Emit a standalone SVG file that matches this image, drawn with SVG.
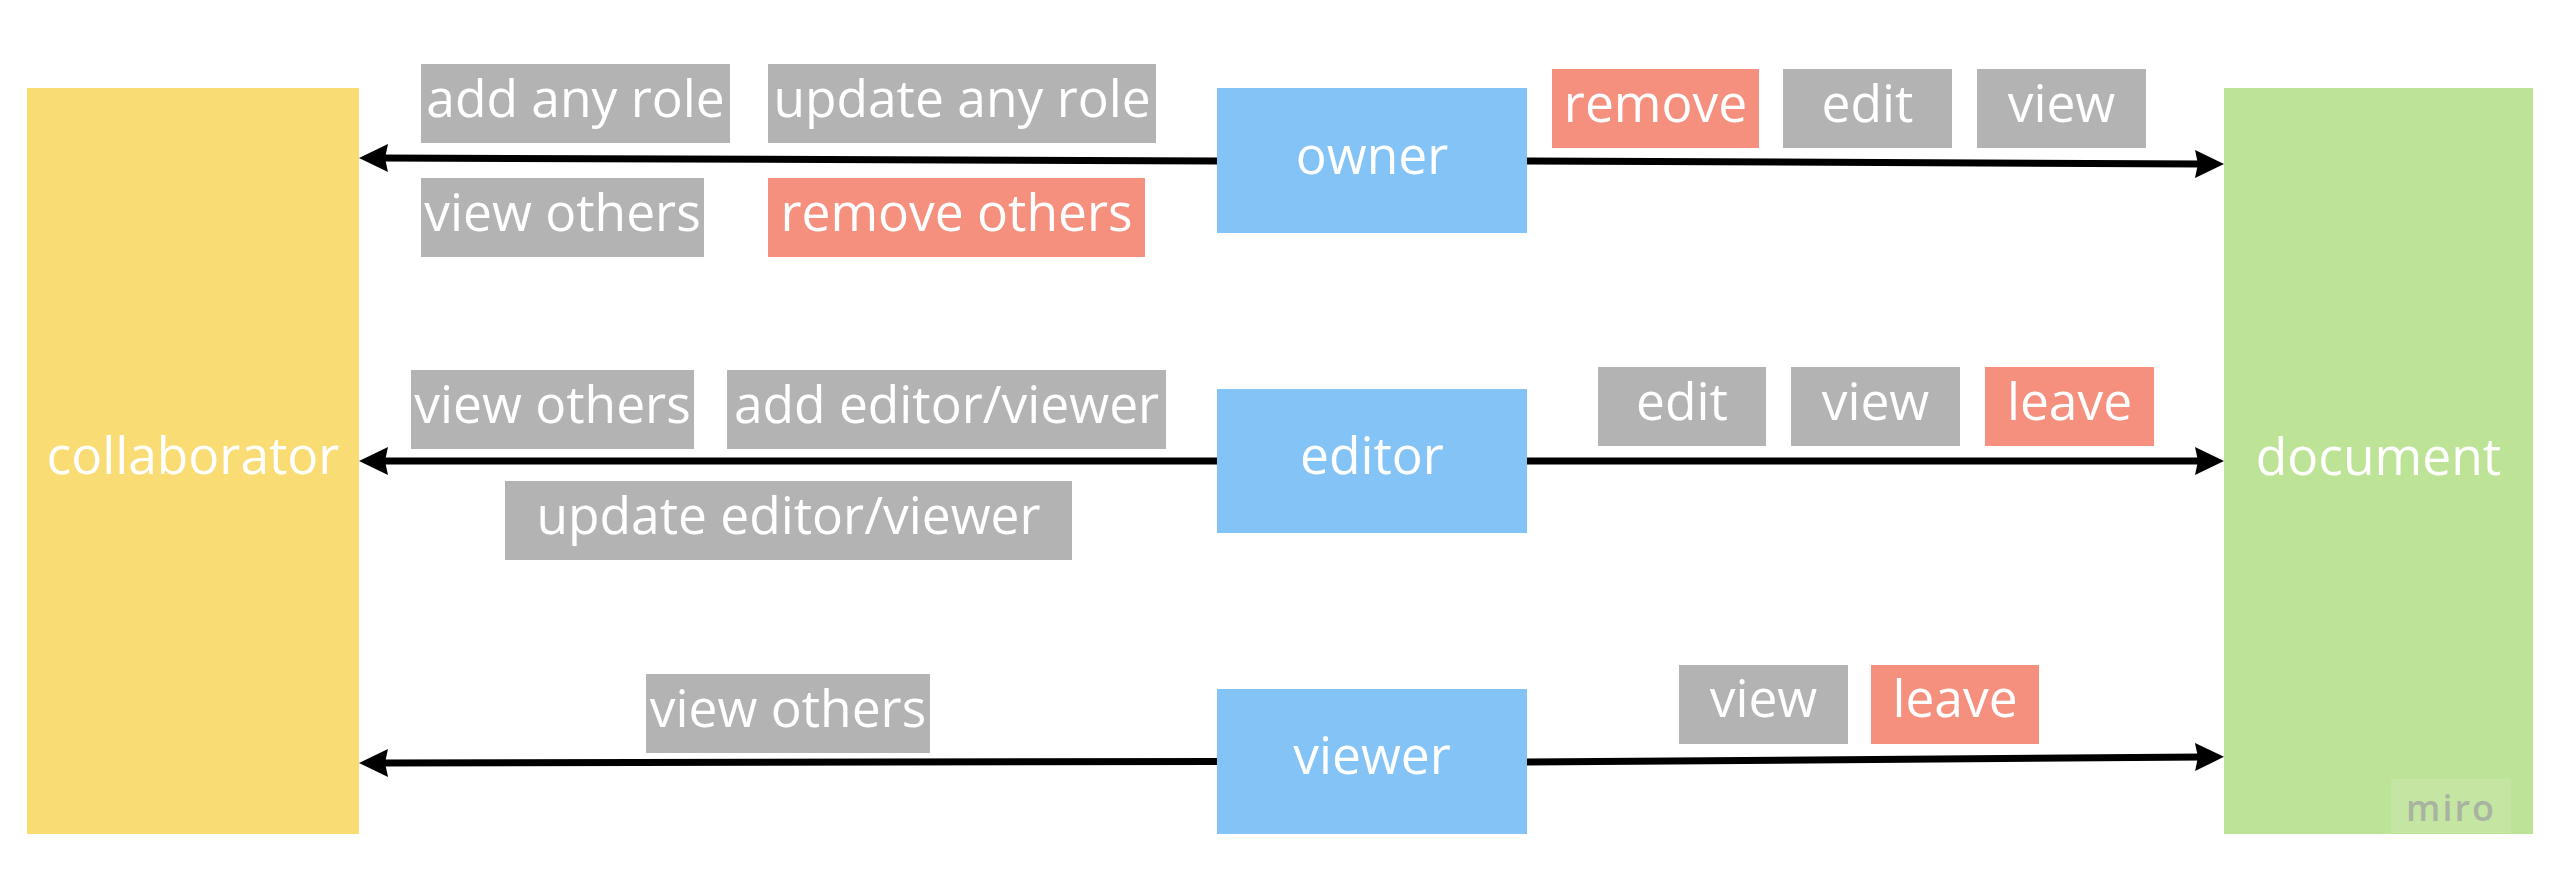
<svg xmlns="http://www.w3.org/2000/svg" width="2550" height="882" viewBox="0 0 2550 882">
<style>
  text { font-family: "Open Sans", "Noto Sans", "Liberation Sans", sans-serif; font-size: 51.5px; fill: #ffffff; text-anchor: middle; }
  .grey { fill: #b3b3b3; }
  .red { fill: #f6907e; }
  .role { fill: #83c3f5; }
  .conn { stroke: #000000; stroke-width: 7; fill: none; }
  .miro { font-size: 36px; font-weight: 600; fill: #a9b3a1; letter-spacing: 2px; }
</style>
<defs>
  <marker id="arrow" markerUnits="userSpaceOnUse" viewBox="0 -15 30 30" markerWidth="30" markerHeight="30" refX="7" refY="0" orient="auto">
    <path d="M0,-14 L29,0 L0,14 L3,0 Z" fill="#000000"/>
  </marker>
</defs>
<rect width="2550" height="882" fill="#ffffff"/>

<g id="collaborator">
  <rect x="27" y="88" width="332" height="746" fill="#f9dc73"/>
  <text x="193" y="474">collaborator</text>
</g>
<g id="document">
  <rect x="2224" y="88" width="309" height="746" fill="#bde396"/>
  <text x="2378.5" y="475">document</text>
  <rect x="2391" y="779" width="120" height="54" fill="#c5e6a2"/>
  <text class="miro" x="2451" y="821">miro</text>
</g>
<g id="owner">
  <rect class="role" x="1217" y="88" width="310" height="145"/>
  <text x="1372" y="173.5">owner</text>
</g>
<g id="editor">
  <rect class="role" x="1217" y="389" width="310" height="144"/>
  <text x="1372" y="474">editor</text>
</g>
<g id="viewer">
  <rect class="role" x="1217" y="689" width="310" height="145"/>
  <text x="1372" y="774">viewer</text>
</g>

<g id="connectors">
  <line class="conn" x1="1217" y1="161" x2="381" y2="158" marker-end="url(#arrow)"/>
  <line class="conn" x1="1527" y1="161" x2="2202" y2="164" marker-end="url(#arrow)"/>
  <line class="conn" x1="1217" y1="461" x2="381" y2="461" marker-end="url(#arrow)"/>
  <line class="conn" x1="1527" y1="461" x2="2202" y2="461" marker-end="url(#arrow)"/>
  <line class="conn" x1="1217" y1="761.5" x2="381" y2="763" marker-end="url(#arrow)"/>
  <line class="conn" x1="1527" y1="762" x2="2202" y2="757" marker-end="url(#arrow)"/>
</g>

<g id="owner-collaborator-labels">
  <g id="lbl-add-any-role"><rect class="grey" x="421" y="64" width="309" height="79"/><text x="575.5" y="117">add any role</text></g>
  <g id="lbl-update-any-role"><rect class="grey" x="768" y="64" width="388" height="79"/><text x="962" y="117">update any role</text></g>
  <g id="lbl-owner-view-others"><rect class="grey" x="421" y="178" width="283" height="79"/><text x="562.5" y="230.5">view others</text></g>
  <g id="lbl-remove-others"><rect class="red" x="768" y="178" width="377" height="79"/><text x="956.5" y="230.5">remove others</text></g>
</g>
<g id="editor-collaborator-labels">
  <g id="lbl-editor-view-others"><rect class="grey" x="411" y="370" width="283" height="79"/><text x="552.5" y="422.5">view others</text></g>
  <g id="lbl-add-editor-viewer"><rect class="grey" x="727" y="370" width="439" height="79"/><text x="946.5" y="422.5">add editor/viewer</text></g>
  <g id="lbl-update-editor-viewer"><rect class="grey" x="505" y="481" width="567" height="79"/><text x="788.5" y="533.5">update editor/viewer</text></g>
</g>
<g id="viewer-collaborator-labels">
  <g id="lbl-viewer-view-others"><rect class="grey" x="646" y="674" width="284" height="79"/><text x="788" y="726.5">view others</text></g>
</g>
<g id="owner-document-labels">
  <g id="lbl-owner-remove"><rect class="red" x="1552" y="69" width="207" height="79"/><text x="1655.5" y="121.5">remove</text></g>
  <g id="lbl-owner-edit"><rect class="grey" x="1783" y="69" width="169" height="79"/><text x="1867.5" y="121.5">edit</text></g>
  <g id="lbl-owner-view"><rect class="grey" x="1977" y="69" width="169" height="79"/><text x="2061.5" y="121.5">view</text></g>
</g>
<g id="editor-document-labels">
  <g id="lbl-editor-edit"><rect class="grey" x="1598" y="367" width="168" height="79"/><text x="1682" y="419.5">edit</text></g>
  <g id="lbl-editor-view"><rect class="grey" x="1791" y="367" width="169" height="79"/><text x="1875.5" y="419.5">view</text></g>
  <g id="lbl-editor-leave"><rect class="red" x="1985" y="367" width="169" height="79"/><text x="2069.5" y="419.5">leave</text></g>
</g>
<g id="viewer-document-labels">
  <g id="lbl-viewer-view"><rect class="grey" x="1679" y="665" width="169" height="79"/><text x="1763.5" y="717">view</text></g>
  <g id="lbl-viewer-leave"><rect class="red" x="1871" y="665" width="168" height="79"/><text x="1955" y="717">leave</text></g>
</g>
</svg>
